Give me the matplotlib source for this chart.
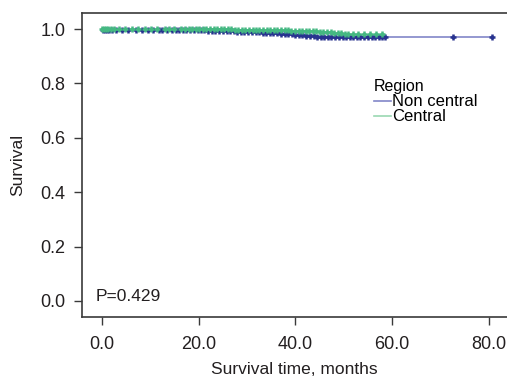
import matplotlib
matplotlib.use("Agg")
import matplotlib.pyplot as plt
from matplotlib.lines import Line2D
import numpy as np

plt.rcParams['font.family'] = ['Liberation Sans', 'DejaVu Sans']

# Kaplan-Meier steps
nc_time = [0.0, 8.0, 15.0, 22.0, 28.0, 33.0, 37.0, 40.0, 42.0, 44.0, 46.0, 80.6]
nc_surv = [1.0, 0.999, 0.997, 0.995, 0.992, 0.989, 0.985, 0.981, 0.977, 0.974, 0.972, 0.972]
c_time = [0.0, 12.0, 20.0, 27.0, 33.0, 39.0, 45.0, 47.5, 50.0, 58.5]
c_surv = [1.0, 0.999, 0.997, 0.995, 0.993, 0.991, 0.988, 0.983, 0.978, 0.978]

# censored times
nc_cens = [0.2, 0.6, 1.0, 1.4, 2.1, 3.0, 4.2, 5.5, 7.0, 8.3, 9.5, 10.6, 11.8, 12.5,
           13.4, 14.6, 15.3, 16.0, 16.8, 17.5, 18.3, 19.0, 19.8, 20.5, 21.2, 22.0,
           22.8, 23.5, 24.3, 25.0, 25.8, 26.5, 27.3, 28.0, 28.8, 29.5, 30.3, 31.0,
           31.8, 32.5, 33.3, 34.0, 34.8, 35.5, 36.3, 37.0, 37.8, 38.5, 39.3, 40.0,
           40.8, 41.5, 42.3, 43.0, 43.8, 44.5, 45.3, 46.0, 46.8, 47.5, 48.3, 49.0,
           49.8, 50.5, 51.3, 52.0, 52.8, 53.5, 54.3, 55.0, 55.8, 56.5, 57.3, 58.0,
           58.6, 72.7, 80.6]
c_cens = [0.1, 0.4, 0.8, 1.3, 1.8, 2.6, 3.5, 4.8, 6.2, 7.5, 9.0, 10.2, 11.5, 13.0,
          14.0, 15.0, 16.4, 17.2, 18.0, 18.7, 19.4, 20.2, 20.9, 21.6, 22.4, 23.1,
          23.8, 24.6, 25.3, 26.0, 26.8, 27.5, 28.2, 29.0, 29.7, 30.4, 31.2, 31.9,
          32.6, 33.4, 34.1, 34.8, 35.6, 36.3, 37.0, 37.8, 38.5, 39.2, 40.0, 40.7,
          41.4, 42.2, 42.9, 43.6, 44.4, 45.1, 45.8, 46.6, 47.3, 48.0, 48.8, 49.5,
          50.2, 51.0, 52.0, 53.0, 54.2, 55.5, 56.8, 58.0]

xticks = [0, 20, 40, 60, 80]
yticks = [0.0, 0.2, 0.4, 0.6, 0.8, 1.0]

nc_line, nc_mark = '#8286c8', '#28338f'
c_line, c_mark = '#9ad8b2', '#45b882'

def surv_at(times, surv, t):
    idx = np.searchsorted(times, t, side='right') - 1
    return np.array(surv)[idx]

fig = plt.figure(figsize=(5.07, 3.78), dpi=100)
ax = fig.add_axes([0.1617, 0.1614, 0.8383, 0.8042])

ax.step(nc_time, nc_surv, where='post', color=nc_line, lw=1.2, zorder=2)
ax.step(c_time, c_surv, where='post', color=c_line, lw=1.2, zorder=2)
ax.plot(nc_cens, surv_at(nc_time, nc_surv, nc_cens) - 0.002, '+', color=nc_mark,
        ms=5, mew=1.8, zorder=3)
ax.plot(c_cens, surv_at(c_time, c_surv, c_cens) + 0.002, '+', color=c_mark,
        ms=5, mew=1.8, zorder=4)

ax.set_xlim(-4.1, 83.8)
ax.set_ylim(-0.059, 1.059)
ax.set_xticks(xticks)
ax.set_xticklabels(['%.1f' % v for v in xticks])
ax.set_yticks(yticks)
ax.set_yticklabels(['%.1f' % v for v in yticks])
ax.tick_params(labelsize=13, length=6, width=1, color='#3a3a3a', labelcolor='#231f20')
ax.tick_params(axis='y', pad=6)
ax.tick_params(axis='x', pad=8)
for s in ['left', 'bottom', 'top']:
    ax.spines[s].set_color('#3a3a3a')
    ax.spines[s].set_linewidth(1.2)
ax.spines['right'].set_visible(False)

ax.set_xlabel('Survival time, months', fontsize=12.5, color='#231f20', labelpad=6)
ax.set_ylabel('Survival', fontsize=12.5, color='#231f20', labelpad=11)
ax.text(-1.2, 0.018, 'P=0.429', fontsize=12.5, color='#231f20', va='center')

handles = [Line2D([], [], color=nc_line, lw=1.2), Line2D([], [], color=c_line, lw=1.2)]
leg = ax.legend(handles, ['Non central', 'Central'], title='Region', loc='upper left',
                bbox_to_anchor=(0.66, 0.82), frameon=False, fontsize=12,
                title_fontsize=11.5, handlelength=1.0, handletextpad=0.1,
                labelspacing=0.0, borderpad=0.2)
leg._legend_box.align = 'left'

fig.savefig('out.png', dpi=100)
